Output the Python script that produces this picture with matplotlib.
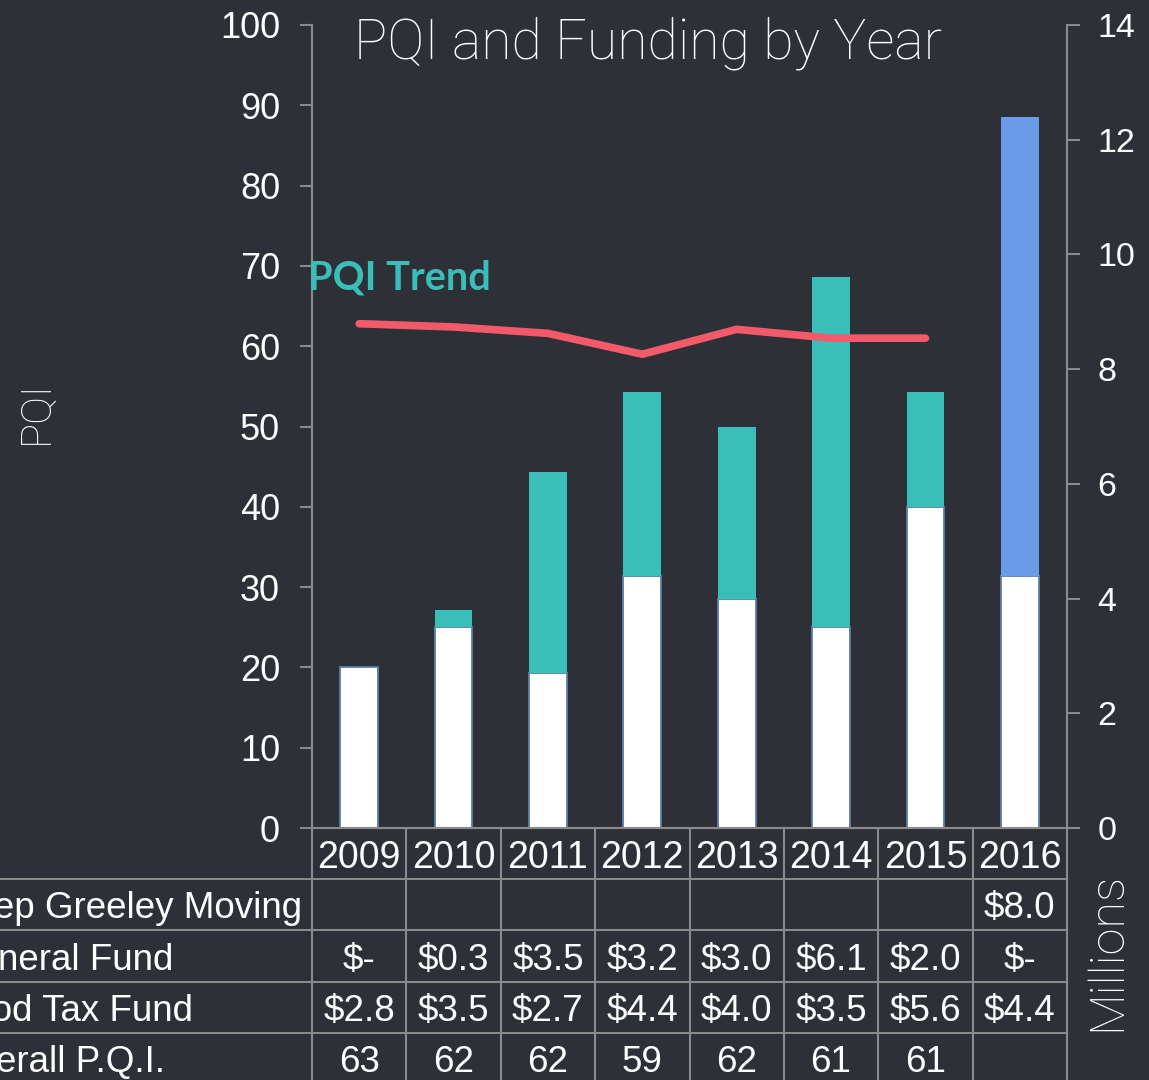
import matplotlib.pyplot as plt
import matplotlib.transforms as mtransforms

years = ["2009", "2010", "2011", "2012", "2013", "2014", "2015", "2016"]
food_tax = [2.8, 3.5, 2.7, 4.4, 4.0, 3.5, 5.6, 4.4]      # millions
general = [0, 0.3, 3.5, 3.2, 3.0, 6.1, 2.0, 0]           # millions
keep_greeley = [None, None, None, None, None, None, None, 8.0]
pqi = [62.8, 62.4, 61.6, 59.0, 62.1, 61.0, 61.0]

row_labels = ["Keep Greeley Moving", "General Fund", "Food Tax Fund", "Overall P.Q.I."]

BG = "#2e3038"
GRID = "#8a8a8a"
TEAL = "#3abfb8"
BLUE = "#6a9be8"
RED = "#f25a6a"
THIN = ["Roboto", "DejaVu Sans"]

plt.rcParams["font.family"] = ["Liberation Sans", "DejaVu Sans"]

fig = plt.figure(figsize=(11.49, 10.8), dpi=100, facecolor=BG)
W, H = 1149, 1080
ax = fig.add_axes([312 / W, (H - 828) / H, (1067 - 312) / W, (828 - 25) / H])
ax2 = ax.twinx()
ax.set_facecolor(BG)

x = list(range(len(years)))
kgm = [v if v is not None else 0 for v in keep_greeley]
base2 = [a + b for a, b in zip(food_tax, general)]

# bars on the millions axis
ax2.bar(x, food_tax, width=0.4, color="white", edgecolor="#5b7fa6", linewidth=1.3, zorder=3)
ax2.bar(x, general, width=0.4, bottom=food_tax, color=TEAL, linewidth=0, zorder=3)
ax2.bar(x, kgm, width=0.4, bottom=base2, color=BLUE, linewidth=0, zorder=3)

# PQI trend line on the left axis, drawn over the bars
ax.plot(x[:len(pqi)], pqi, color=RED, linewidth=5.5, solid_capstyle="round", zorder=5)
ax.set_zorder(ax2.get_zorder() + 1)
ax.patch.set_visible(False)
ax2.patch.set_facecolor(BG)

ax.set_xlim(-0.5, len(years) - 0.5)
ax.set_ylim(0, 100)
ax2.set_ylim(0, 14)
ax.set_yticks(range(0, 101, 10))
ax2.set_yticks(range(0, 15, 2))
ax.set_xticks([])

for a in (ax, ax2):
    for s in a.spines.values():
        s.set_color(GRID)
        s.set_linewidth(1.5)
    a.spines["top"].set_visible(False)
ax.tick_params(axis="y", colors=GRID, labelcolor="white", labelsize=26, length=9, width=1.5, pad=14)
ax2.tick_params(axis="y", colors=GRID, labelcolor="white", labelsize=24.5, length=9, width=1.5, pad=13)

ax.text(-0.54, 68.5, "PQI Trend", color=TEAL, fontsize=28.5, fontweight="bold",
        family=["Lato", "DejaVu Sans"], ha="left", va="center")

# data table below the plot
trans = mtransforms.blended_transform_factory(ax.transData, ax.transAxes)
row_h = 51.2 / 803
shift = 4 / 803
n = len(years)
left_x = -0.5 - (312 + 51) / 94.4

def fmt_money(v):
    if v is None:
        return ""
    if v == 0:
        return "$-"
    return f"${v:.1f}"

rows = [
    [fmt_money(v) for v in keep_greeley],
    [fmt_money(v) for v in general],
    [fmt_money(v) for v in food_tax],
    [str(round(v)) for v in pqi] + [""] * (n - len(pqi)),
]

for i, yr in enumerate(years):
    ax.text(i, -row_h / 2 - shift, yr, transform=trans, ha="center", va="center",
            color="white", fontsize=27, clip_on=False)

for r, (lab, vals) in enumerate(zip(row_labels, rows)):
    yc = -row_h * (r + 1.5) - shift
    ax.text(left_x, yc, lab, transform=trans, ha="left", va="center",
            color="white", fontsize=26.5, clip_on=False)
    for i, v in enumerate(vals):
        ax.text(i, yc, v, transform=trans, ha="center", va="center",
                color="white", fontsize=26.5, clip_on=False)

# table grid lines
for r in range(1, 5):
    ax.plot([-5, n - 0.5], [-row_h * r, -row_h * r], transform=trans,
            color=GRID, linewidth=1.5, clip_on=False)
for i in range(n + 1):
    ax.plot([i - 0.5, i - 0.5], [0, -row_h * 6], transform=trans,
            color=GRID, linewidth=1.5, clip_on=False)

fig.text(648 / W, 1 - 43 / H, "PQI and Funding by Year", ha="center", va="center",
         color="white", fontsize=40, fontweight="light", family=THIN)
fig.text(36 / W, 1 - 412 / H, "PQI", ha="center", va="center", rotation=90,
         color="white", fontsize=30, fontweight="light", family=THIN)
fig.text(1107 / W, 1 - 951 / H, "Millions", ha="center", va="center", rotation=90,
         color="white", fontsize=35, fontweight="light", family=THIN)

fig.savefig("out.png", dpi=100, facecolor=BG)
